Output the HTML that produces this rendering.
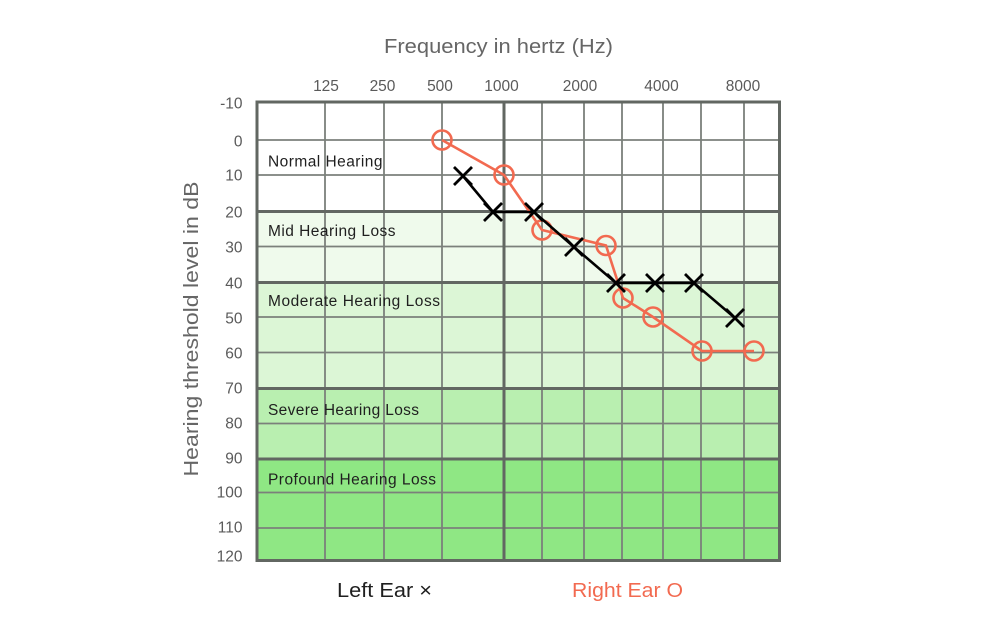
<!DOCTYPE html>
<html>
<head>
<meta charset="utf-8">
<style>
html,body{margin:0;padding:0;background:#ffffff;}
svg{display:block;}
text{font-family:"Liberation Sans",sans-serif;}
</style>
</head>
<body>
<svg width="1000" height="638" viewBox="0 0 1000 638" xmlns="http://www.w3.org/2000/svg">
  <rect x="0" y="0" width="1000" height="638" fill="#ffffff"/>

  <!-- zone fills -->
  <rect x="257" y="102" width="522.5" height="109.5" fill="#ffffff"/>
  <rect x="257" y="211.5" width="522.5" height="71" fill="#effaec"/>
  <rect x="257" y="282.5" width="522.5" height="106" fill="#dcf6d6"/>
  <rect x="257" y="388.5" width="522.5" height="70.5" fill="#b9efb0"/>
  <rect x="257" y="459" width="522.5" height="101.5" fill="#8fe784"/>

  <!-- thin grid lines -->
  <g stroke="#7b807b" stroke-width="1.8" fill="none">
    <line x1="257" y1="140" x2="779.5" y2="140"/>
    <line x1="257" y1="175" x2="779.5" y2="175"/>
    <line x1="257" y1="246.5" x2="779.5" y2="246.5"/>
    <line x1="257" y1="317" x2="779.5" y2="317"/>
    <line x1="257" y1="352.5" x2="779.5" y2="352.5"/>
    <line x1="257" y1="423.5" x2="779.5" y2="423.5"/>
    <line x1="257" y1="492.5" x2="779.5" y2="492.5"/>
    <line x1="257" y1="528" x2="779.5" y2="528"/>
    <line x1="325" y1="102" x2="325" y2="560.5"/>
    <line x1="384" y1="102" x2="384" y2="560.5"/>
    <line x1="442" y1="102" x2="442" y2="560.5"/>
    <line x1="542" y1="102" x2="542" y2="560.5"/>
    <line x1="584" y1="102" x2="584" y2="560.5"/>
    <line x1="622" y1="102" x2="622" y2="560.5"/>
    <line x1="663" y1="102" x2="663" y2="560.5"/>
    <line x1="701" y1="102" x2="701" y2="560.5"/>
    <line x1="744" y1="102" x2="744" y2="560.5"/>
  </g>
  <!-- thick grid lines -->
  <g stroke="#626762" stroke-width="3" fill="none">
    <line x1="257" y1="211.5" x2="779.5" y2="211.5"/>
    <line x1="257" y1="282.5" x2="779.5" y2="282.5"/>
    <line x1="257" y1="388.5" x2="779.5" y2="388.5"/>
    <line x1="257" y1="459" x2="779.5" y2="459"/>
    <line x1="504" y1="102" x2="504" y2="560.5"/>
    <rect x="257" y="102" width="522.5" height="458.5"/>
  </g>

  <!-- zone labels -->
  <g fill="#1f1f1f" font-size="15.5">
    <text x="268" y="166.5" textLength="114.5" lengthAdjust="spacing">Normal Hearing</text>
    <text x="268" y="236" textLength="127.5" lengthAdjust="spacing">Mid Hearing Loss</text>
    <text x="268" y="306" textLength="172" lengthAdjust="spacing">Moderate Hearing Loss</text>
    <text x="268" y="415" textLength="151" lengthAdjust="spacing">Severe Hearing Loss</text>
    <text x="268" y="484.3" textLength="168" lengthAdjust="spacing">Profound Hearing Loss</text>
  </g>

  <!-- y tick labels -->
  <g fill="#5a5a5a" font-size="15.5" text-anchor="end">
    <text x="242.5" y="108.5">-10</text>
    <text x="242.5" y="146.5">0</text>
    <text x="242.5" y="180.5">10</text>
    <text x="242.5" y="217.5">20</text>
    <text x="242.5" y="252.5">30</text>
    <text x="242.5" y="288.5">40</text>
    <text x="242.5" y="323.5">50</text>
    <text x="242.5" y="358.5">60</text>
    <text x="242.5" y="393.5">70</text>
    <text x="242.5" y="428.5">80</text>
    <text x="242.5" y="463.5">90</text>
    <text x="242.5" y="497.5">100</text>
    <text x="242.5" y="532.5">110</text>
    <text x="242.5" y="561.5">120</text>
  </g>

  <!-- top tick labels -->
  <g fill="#5a5a5a" font-size="15.5" text-anchor="middle">
    <text x="326" y="91">125</text>
    <text x="382.5" y="91">250</text>
    <text x="440" y="91">500</text>
    <text x="501.5" y="91">1000</text>
    <text x="580" y="91">2000</text>
    <text x="661.5" y="91">4000</text>
    <text x="743" y="91">8000</text>
  </g>

  <!-- axis titles -->
  <text x="384" y="53" font-size="20" fill="#666666" textLength="229" lengthAdjust="spacingAndGlyphs">Frequency in hertz (Hz)</text>
  <text transform="translate(198,329) rotate(-90)" x="0" y="0" font-size="20" fill="#666666" text-anchor="middle" textLength="295" lengthAdjust="spacingAndGlyphs">Hearing threshold level in dB</text>

  <!-- Right ear (O) -->
  <g stroke="#f26a50" stroke-width="2.6" fill="none">
    <polyline points="442,140 504,175 542,230 606,245.5 623,298 653,317 702,351 754,351"/>
    <circle cx="442" cy="140" r="9.5"/>
    <circle cx="504" cy="175" r="9.5"/>
    <circle cx="542" cy="230" r="9.5"/>
    <circle cx="606" cy="245.5" r="9.5"/>
    <circle cx="623" cy="298" r="9.5"/>
    <circle cx="653" cy="317" r="9.5"/>
    <circle cx="702" cy="351" r="9.5"/>
    <circle cx="754" cy="351" r="9.5"/>
  </g>

  <!-- Left ear (X) -->
  <g stroke="#000000" stroke-width="2.6" fill="none">
    <polyline points="463,176 493,212 534,212 574,247 616,283 655,283 694,283 735,318"/>
  </g>
  <g stroke="#000000" stroke-width="2.8" fill="none">
    <path d="M454,167 L472,185 M472,167 L454,185"/>
    <path d="M484,203 L502,221 M502,203 L484,221"/>
    <path d="M525,203 L543,221 M543,203 L525,221"/>
    <path d="M565,238 L583,256 M583,238 L565,256"/>
    <path d="M607,274 L625,292 M625,274 L607,292"/>
    <path d="M646,274 L664,292 M664,274 L646,292"/>
    <path d="M685,274 L703,292 M703,274 L685,292"/>
    <path d="M726,309 L744,327 M744,309 L726,327"/>
  </g>

  <!-- legend -->
  <text x="337" y="597" font-size="20" fill="#1f1f1f" textLength="95" lengthAdjust="spacingAndGlyphs">Left Ear ×</text>
  <text x="572" y="597" font-size="20" fill="#f26a50" textLength="111" lengthAdjust="spacingAndGlyphs">Right Ear O</text>
</svg>
</body>
</html>
